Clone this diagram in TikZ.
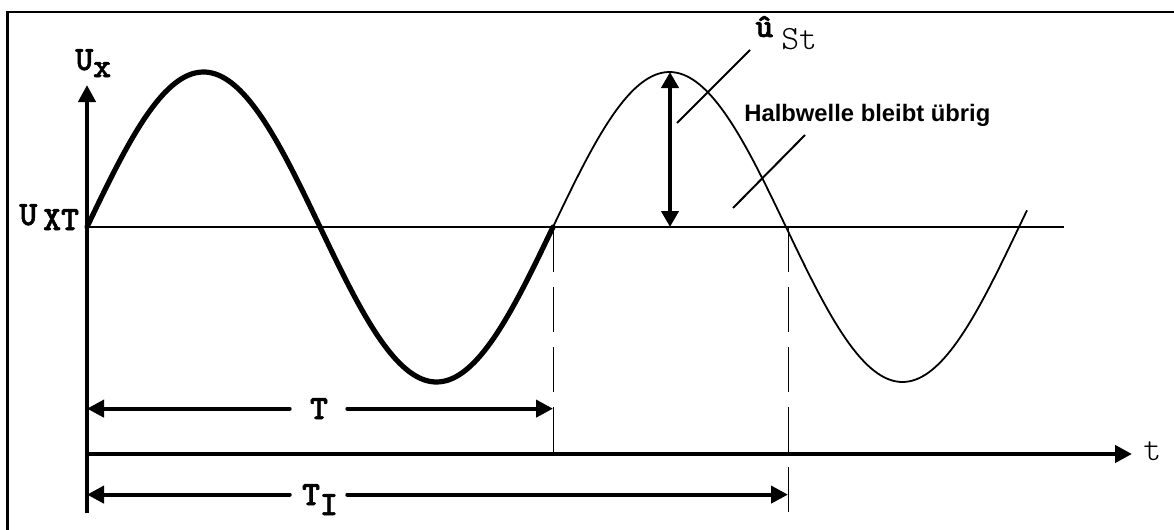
\documentclass[tikz,border=0pt]{standalone}
\usepackage{fontspec}
\newfontfamily\monofont{lmmonolt10}[Extension=.otf, UprightFont=*-regular,
  BoldFont=*-bold, BoldFeatures={FakeBold=1.5}]
\newfontfamily\sansfont{Liberation Sans}
\usetikzlibrary{arrows.meta, positioning, calc}
\newcommand{\lowr}[2]{\raisebox{-#1}{#2}}

\begin{document}
\begin{tikzpicture}[
  x=0.5pt, y=-0.5pt,
  tip/.style={-{Triangle[length=8.5pt,width=8.5pt]}},
  axis/.style={line width=2.2pt, tip},
  dim/.style={line width=2pt, line cap=round, tip},
  wave/.style={line width=2.6pt, line cap=round, line join=round},
  thinwave/.style={line width=0.9pt},
  guide/.style={line width=0.5pt, dash pattern=on 22.5pt off 7.5pt},
  leader/.style={line width=1pt},
  lbl/.style={inner sep=0pt, text depth=0pt, anchor=base west,
              font=\monofont\bfseries\fontsize{17}{17}\selectfont},
  note/.style={inner sep=0pt, anchor=base west,
               font=\sansfont\bfseries\fontsize{11.9}{12}\selectfont}
]
\useasboundingbox (0,0) rectangle (1174,530);

% frame
\draw[line width=1.2pt] (7.5,530) -- (7.5,12) -- (1174,12);

% points
\coordinate (O) at (87,227);
\coordinate (P) at (553,227);
\coordinate (Q) at (788,227);
\coordinate (hend) at (1064,227);
\coordinate (peak) at (670,72);
\coordinate (foot) at (670,227);
\coordinate (ybot) at (87,513);
\coordinate (ytop) at (87,85);
\coordinate (t0) at (87,454);
\coordinate (tend) at (1132,454);
\coordinate (ptr1) at (677,123);
\coordinate (ptr2) at (733,208);

% U_XT level
\draw[line width=0.75pt] (O) -- (hend);

% wave
\draw[wave] plot[domain=87:553, samples=150] (\x, {227-155*sin(0.772532*(\x-87))});
\draw[thinwave] plot[domain=553:1027, samples=150] (\x, {227-155*sin(0.772532*(\x-87))});

% guides
\draw[guide] (P) -- (P |- t0);
\draw[guide] (Q) -- (Q |- ybot);

% axes
\draw[axis] (ybot) -- (ytop);
\draw[axis] (t0) -- (tend);

% amplitude
\draw[line width=2pt, {Triangle[length=8pt,width=8.5pt]}-{Triangle[length=8pt,width=8.5pt]}] (peak) -- (foot);

% labels
\node[lbl] (ux) at (75,70) {U\lowr{3.5pt}{x}};
\node[lbl] (uxt) at (19,225) {U\hspace{3pt}\lowr{2.5pt}{XT}};
\node[lbl, font=\monofont\fontsize{17}{17}\selectfont] (t) at (1143,460) {t};
\node[lbl] (uhat) at (755,37) {û\hspace{4pt}\lowr{6pt}{\mdseries St}};
\node[note] (half) at (744,121) {Halbwelle bleibt übrig};

% leaders
\draw[leader] ($(uhat.base west)+(-5,13)$) -- (ptr1);
\draw[leader] ($(half.base west)+(61,14)$) -- (ptr2);

% periods
\node[lbl, anchor=base] (T) at (319,419) {T};
\draw[dim] ([xshift=-10pt]T.west) -- (T.west -| O);
\draw[dim] ([xshift=9.5pt]T.east) -- (T.east -| P);

\node[lbl, anchor=base] (TI) at (320,505) {T\lowr{5pt}{I}};
\draw[dim] ([xshift=-6pt]TI.west) -- (TI.west -| O);
\draw[dim] ([xshift=4.5pt]TI.east) -- (TI.east -| Q);
\end{tikzpicture}
\end{document}
